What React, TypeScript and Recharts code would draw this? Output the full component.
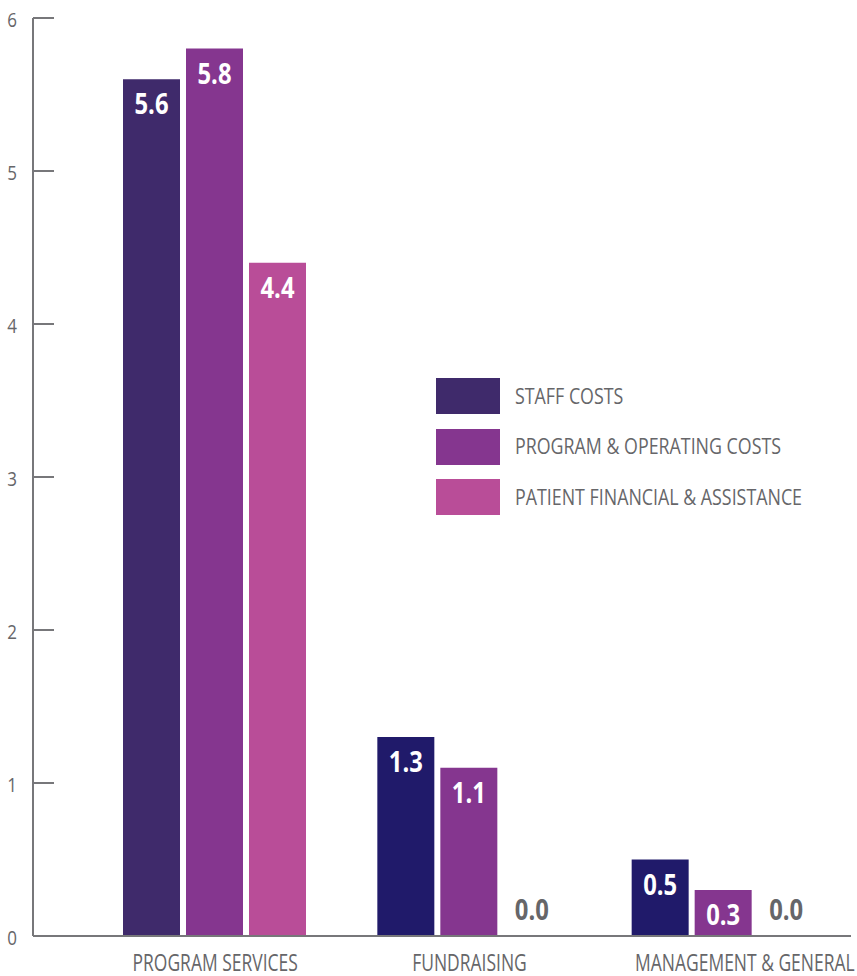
import React from 'react';
import { BarChart, Bar, XAxis, YAxis, Legend, LabelList, Cell } from 'recharts';

const categories = ['PROGRAM SERVICES', 'FUNDRAISING', 'MANAGEMENT & GENERAL'];
const staffCosts = [5.6, 1.3, 0.5];
const programCosts = [5.8, 1.1, 0.3];
const patientCosts = [4.4, 0.0, 0.0];
const yTicks = [0, 1, 2, 3, 4, 5, 6];
const seriesNames = ['STAFF COSTS', 'PROGRAM & OPERATING COSTS', 'PATIENT FINANCIAL & ASSISTANCE'];

const FONT = "'Open Sans', 'Noto Sans', sans-serif";
const GRAY = '#666669';
const AXIS = '#77777a';
const seriesColors = ['#3f2a6b', '#85368f', '#b94d98'];
const staffCellColors = ['#3f2a6b', '#201a6a', '#201a6a'];

const data = categories.map((name, i) => ({
  name,
  staff: staffCosts[i],
  program: programCosts[i],
  patient: patientCosts[i],
}));

const ValueLabel = (props: any) => {
  const { x, y, width, value } = props;
  const zero = Number(value) === 0;
  const ty = zero ? y - 15 : y + 35;
  return (
    <text
      transform={`translate(${x + width / 2},${ty}) scale(0.85,1)`}
      textAnchor="middle"
      fill={zero ? GRAY : '#ffffff'}
      fontFamily={FONT}
      fontWeight="bold"
      fontSize={28}
    >
      {Number(value).toFixed(1)}
    </text>
  );
};

const YTick = (props: any) => {
  const { x, y, payload } = props;
  return (
    <g>
      <line x1={x} x2={x + 21} y1={y} y2={y} stroke={AXIS} strokeWidth={2} />
      <text
        transform={`translate(${x - 16},${y + 9}) scale(0.85,1)`}
        textAnchor="end"
        fill={GRAY}
        fontFamily={FONT}
        fontSize={20}
      >
        {payload.value}
      </text>
    </g>
  );
};

const XTick = (props: any) => {
  const { x, y, payload, index } = props;
  // last label is nudged right in the original
  const shift = index === categories.length - 1 ? 21 : 0;
  return (
    <text
      transform={`translate(${x + shift},${y + 35}) scale(0.76,1)`}
      textAnchor="middle"
      fill={GRAY}
      fontFamily={FONT}
      fontSize={23}
    >
      {payload.value}
    </text>
  );
};

const LegendBox = () => (
  <div style={{ fontFamily: FONT }}>
    {seriesNames.map((s, i) => (
      <div key={s} style={{ display: 'flex', alignItems: 'center', height: 36, marginBottom: 14.5 }}>
        <div style={{ width: 64, height: 36, background: seriesColors[i], flex: 'none' }} />
        <span
          style={{
            marginLeft: 15,
            marginTop: -3,
            fontSize: 22,
            color: GRAY,
            whiteSpace: 'nowrap',
            display: 'inline-block',
            transform: 'scaleX(0.81)',
            transformOrigin: 'left center',
          }}
        >
          {s}
        </span>
      </div>
    ))}
  </div>
);

export default function App() {
  return (
    <div style={{ position: 'absolute', left: 0, top: 0, background: '#fff' }}>
      <BarChart
        width={857}
        height={976}
        data={data}
        margin={{ top: 18, right: 6, left: 0, bottom: 0 }}
        barCategoryGap={35}
        barGap={6}
      >
        <XAxis
          dataKey="name"
          height={40}
          padding={{ left: 55, right: 0 }}
          tickLine={false}
          tickSize={0}
          tickMargin={0}
          axisLine={{ stroke: AXIS, strokeWidth: 2 }}
          tick={<XTick />}
          interval={0}
        />
        <YAxis
          width={33}
          domain={[0, 6]}
          ticks={yTicks}
          tickLine={false}
          tickSize={0}
          tickMargin={0}
          axisLine={{ stroke: AXIS, strokeWidth: 2 }}
          tick={<YTick />}
          interval={0}
        />
        <Legend
          layout="vertical"
          verticalAlign="middle"
          align="center"
          content={<LegendBox />}
          wrapperStyle={{ position: 'absolute', left: 436, top: 378, width: 420 }}
        />
        <Bar dataKey="staff" name={seriesNames[0]} fill={seriesColors[0]} minPointSize={1} isAnimationActive={false}>
          {data.map((d, i) => (
            <Cell key={d.name} fill={staffCellColors[i]} />
          ))}
          <LabelList dataKey="staff" content={<ValueLabel />} />
        </Bar>
        <Bar dataKey="program" name={seriesNames[1]} fill={seriesColors[1]} minPointSize={1} isAnimationActive={false}>
          <LabelList dataKey="program" content={<ValueLabel />} />
        </Bar>
        <Bar dataKey="patient" name={seriesNames[2]} fill="#333338" minPointSize={1} isAnimationActive={false}>
          {data.map((d, i) => (
            <Cell key={d.name} fill={patientCosts[i] === 0 ? '#333338' : seriesColors[2]} />
          ))}
          <LabelList dataKey="patient" content={<ValueLabel />} />
        </Bar>
      </BarChart>
    </div>
  );
}
